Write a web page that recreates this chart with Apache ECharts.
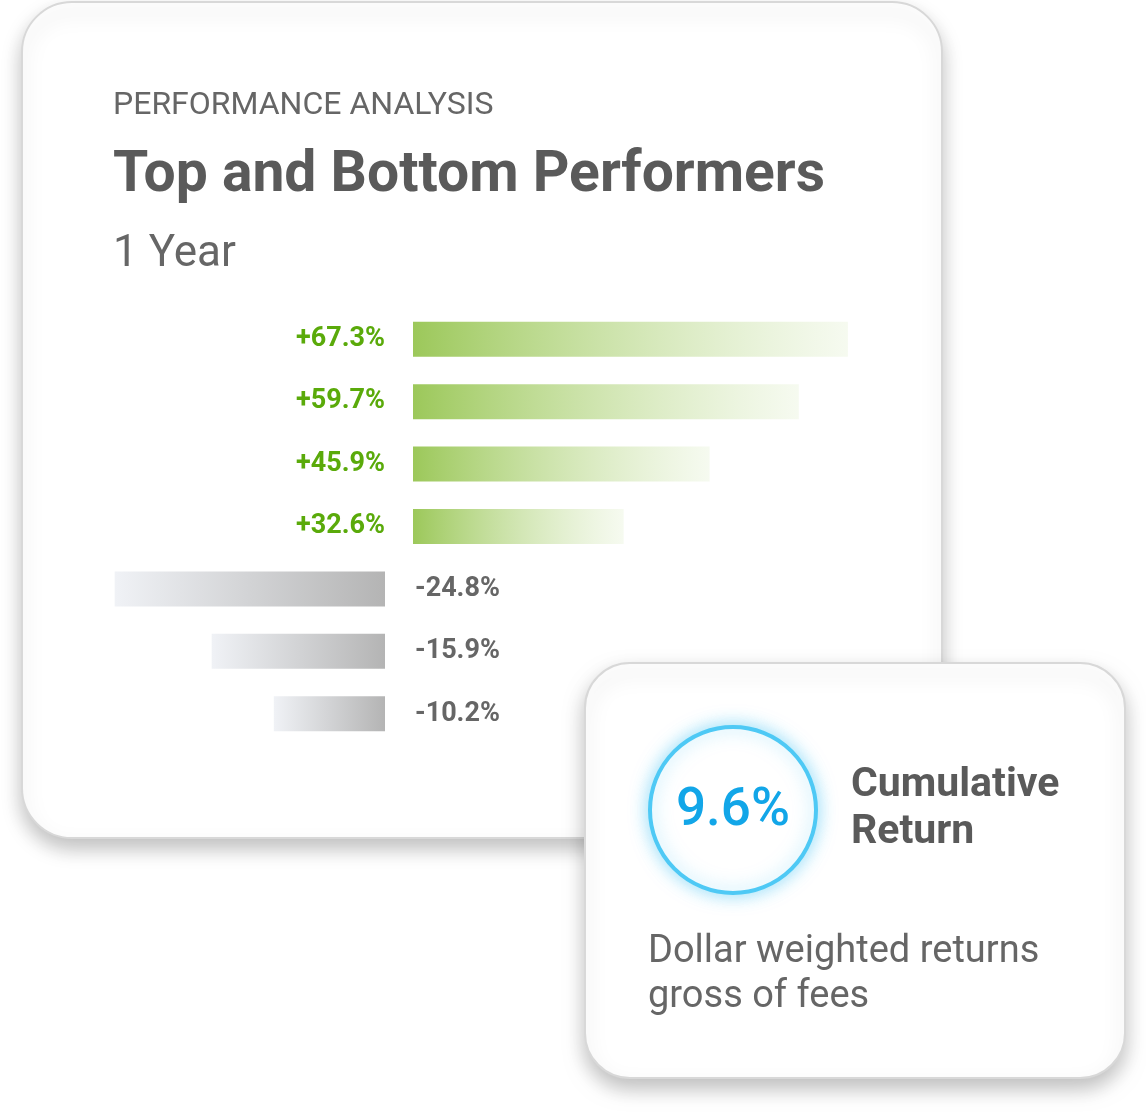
<!DOCTYPE html>
<html><head><meta charset="utf-8">
<script src="https://cdn.jsdelivr.net/npm/echarts@6/dist/echarts.min.js"></script>
<style>html,body{margin:0;padding:0;background:#fff}#c{width:1146px;height:1114px}</style>
</head><body><div id="c"></div>
<script>
const categories = ['T1','T2','T3','T4','B1','B2','B3'];
const topValues = [67.3, 59.7, 45.9, 32.6, null, null, null];
const bottomValues = [null, null, null, null, -24.8, -15.9, -10.2];
const F = 'Roboto, "Noto Sans", sans-serif';
const chart = echarts.init(document.getElementById('c'));
const posGrad = new echarts.graphic.LinearGradient(0,0,1,0,[{offset:0,color:'#9cc85a'},{offset:1,color:'rgba(240,247,230,0.6)'}]);
const negGrad = new echarts.graphic.LinearGradient(0,0,1,0,[{offset:0,color:'#f0f2f6'},{offset:1,color:'#b4b4b4'}]);
chart.setOption({
  animation:false,
  grid:[{left:413,top:308,width:517,height:437},{left:58,top:308,width:327,height:437}],
  xAxis:[{gridIndex:0,type:'value',min:0,max:80,show:false},{gridIndex:1,type:'value',min:-30,max:0,show:false}],
  yAxis:[{gridIndex:0,type:'category',data:categories,inverse:true,show:false},{gridIndex:1,type:'category',data:categories,inverse:true,show:false}],
  series:[
    {type:'bar',xAxisIndex:0,yAxisIndex:0,data:topValues,barWidth:35,itemStyle:{color:posGrad},
     label:{show:true,position:'left',distance:28,color:'#5aaa0a',fontWeight:'bold',fontSize:27,fontFamily:F,formatter:p=>'+'+p.value.toFixed(1)+'%'}},
    {type:'bar',xAxisIndex:1,yAxisIndex:1,data:bottomValues,barWidth:35,itemStyle:{color:negGrad},
     label:{show:true,position:'right',distance:30,color:'#666',fontWeight:'bold',fontSize:27,fontFamily:F,formatter:p=>p.value.toFixed(1)+'%'}}
  ],
  graphic:[
    {type:'rect',z:-10,shape:{x:22,y:2,width:920,height:836,r:50},style:{fill:'#fff',stroke:'#d8d8d8',lineWidth:2,shadowBlur:20,shadowOffsetY:10,shadowColor:'rgba(0,0,0,0.25)'}},
    {type:'text',x:113,y:106,style:{text:'PERFORMANCE ANALYSIS',fill:'#666',font:'32px '+F,textVerticalAlign:'middle'}},
    {type:'text',x:113,y:177,style:{text:'Top and Bottom Performers',fill:'#5a5a5a',font:'bold 57px '+F,textVerticalAlign:'middle'}},
    {type:'text',x:113,y:255,style:{text:'1 Year',fill:'#666',font:'44px '+F,textVerticalAlign:'middle'}},
    {type:'rect',z:50,shape:{x:585,y:663,width:540,height:415,r:45},style:{fill:'#fff',stroke:'#d8d8d8',lineWidth:2,shadowBlur:20,shadowOffsetY:10,shadowColor:'rgba(0,0,0,0.25)'}},
    {type:'circle',z:51,shape:{cx:733,cy:810,r:83},style:{fill:'#fff',stroke:'#4ec9f5',lineWidth:4,shadowBlur:18,shadowColor:'rgba(80,200,245,0.6)'}},
    {type:'text',z:52,x:733,y:812,style:{text:'9.6%',fill:'#12a6e8',font:'500 53px '+F,textAlign:'center',textVerticalAlign:'middle'}},
    {type:'text',z:52,x:851,y:786,style:{text:'Cumulative',fill:'#5a5a5a',font:'bold 41px '+F,textVerticalAlign:'middle'}},
    {type:'text',z:52,x:851,y:833,style:{text:'Return',fill:'#5a5a5a',font:'bold 41px '+F,textVerticalAlign:'middle'}},
    {type:'text',z:52,x:648,y:952,style:{text:'Dollar weighted returns',fill:'#666',font:'38px '+F,textVerticalAlign:'middle'}},
    {type:'text',z:52,x:648,y:997,style:{text:'gross of fees',fill:'#666',font:'38px '+F,textVerticalAlign:'middle'}}
  ]
});
</script></body></html>
